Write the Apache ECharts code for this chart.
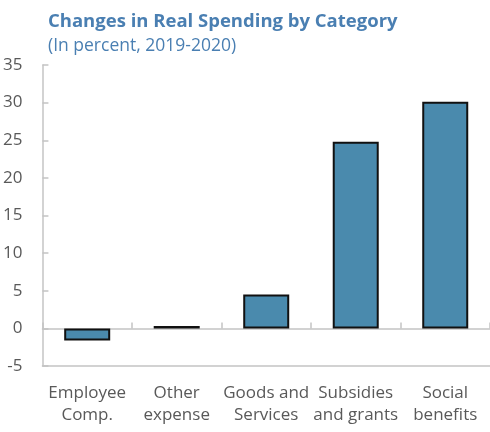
<!DOCTYPE html>
<html><head><meta charset="utf-8">
<script src="https://cdn.jsdelivr.net/npm/echarts@6/dist/echarts.min.js"></script>
<style>html,body{margin:0;padding:0;background:#fff}#c{width:490px;height:432px}</style>
</head><body><div id="c"></div>
<script>
var categories = ['Employee\nComp.', 'Other\nexpense', 'Goods and\nServices', 'Subsidies\nand grants', 'Social\nbenefits'];
var values = [-1.6, 0.3, 4.5, 24.8, 30.1];
var yTicks = {min: -5, max: 35, interval: 5};
var chart = echarts.init(document.getElementById('c'));
var font = '"Open Sans", "Noto Sans", sans-serif';
chart.setOption({
  animation: false,
  title: {
    text: 'Changes in Real Spending by Category',
    subtext: '(In percent, 2019-2020)',
    left: 43, top: 7, itemGap: 6,
    textStyle: {fontFamily: font, fontSize: 18.5, fontWeight: 'bold', color: '#4a7fb2'},
    subtextStyle: {fontFamily: font, fontSize: 17.5, color: '#4a7fb2'}
  },
  grid: {left: 42, right: -6, top: 65, bottom: 66, containLabel: false},
  xAxis: [{
    type: 'category', data: categories, position: 'bottom',
    axisLine: {onZero: false, lineStyle: {color: '#c4c4c4', width: 1.5}},
    axisTick: {show: false},
    axisLabel: {interval: 0, fontFamily: font, fontSize: 17, color: '#595959', margin: 16, lineHeight: 22}
  }, {
    type: 'category', data: categories, position: 'bottom',
    axisLine: {onZero: true, lineStyle: {color: '#c4c4c4', width: 1.5}},
    axisTick: {show: true, inside: true, length: 6, interval: 0, lineStyle: {color: '#c4c4c4', width: 1.5}},
    axisLabel: {show: false}
  }],
  yAxis: {
    type: 'value', min: yTicks.min, max: yTicks.max, interval: yTicks.interval,
    axisLine: {show: true, lineStyle: {color: '#c4c4c4', width: 1.5}},
    axisTick: {show: true, inside: true, length: 6, lineStyle: {color: '#c4c4c4', width: 1.5}},
    splitLine: {show: false},
    axisLabel: {fontFamily: font, fontSize: 17, color: '#595959', margin: 20}
  },
  series: [{
    type: 'bar', data: values, xAxisIndex: 0, barWidth: 46,
    itemStyle: {color: '#4a8aad', borderColor: '#111', borderWidth: 2}
  }]
});
</script></body></html>
